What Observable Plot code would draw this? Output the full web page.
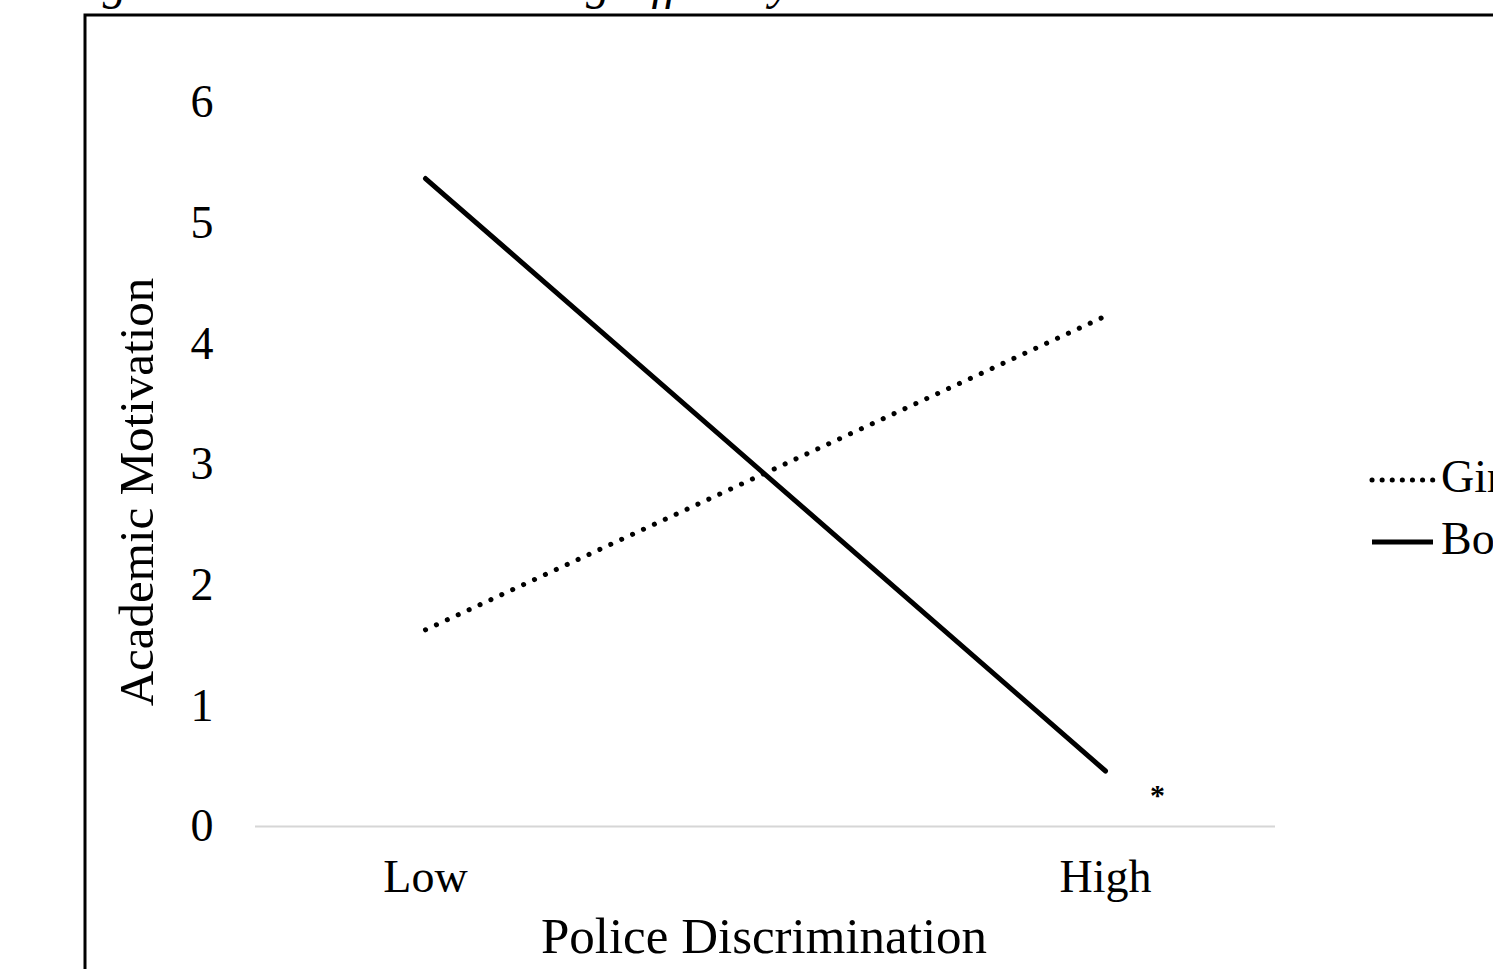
<!DOCTYPE html>
<html>
<head>
<meta charset="utf-8">
<script src="https://cdn.jsdelivr.net/npm/d3@7"></script>
<script src="https://cdn.jsdelivr.net/npm/@observablehq/plot@0.6"></script>
<style>
  html, body { margin: 0; padding: 0; background: #fff; overflow: hidden; }
  #chart svg { display: block; }
</style>
</head>
<body>
<div id="chart"></div>
<script>
const levels = ["Low", "High"];
const girls = [1.63, 4.23];
const boys = [5.37, 0.46];
const yTicks = [0, 1, 2, 3, 4, 5, 6];
const seriesNames = ["Girls", "Boys"];
const sigMark = [{level: "High", value: 0.26, label: "*"}];

const rows = [];
levels.forEach((l, i) => {
  rows.push({level: l, value: girls[i], group: "Girls"});
  rows.push({level: l, value: boys[i], group: "Boys"});
});

const W = 1493, H = 969;
const serif = "'Liberation Serif', 'DejaVu Serif', serif";

const plot = Plot.plot({
  width: W,
  height: H,
  marginLeft: 255,
  marginRight: 218,
  marginTop: 102,
  marginBottom: 143,
  style: {fontFamily: serif, fontSize: "46px", color: "#000", background: "#fff", overflow: "visible"},
  x: {type: "point", domain: levels, padding: 0.25, label: null},
  y: {domain: [0, 6], label: null},
  marks: [
    Plot.ruleY([0], {stroke: "#d6d6d6", strokeWidth: 2}),
    Plot.axisY({ticks: yTicks, tickFormat: "d", tickSize: 0, tickPadding: 42, fontSize: 46, label: null}),
    Plot.axisX({tickSize: 0, tickPadding: 33, fontSize: 46, label: null}),
    Plot.line(rows.filter(d => d.group === "Girls"), {
      x: "level", y: "value", stroke: "#000", strokeWidth: 5,
      strokeDasharray: "0.1 11.9", strokeLinecap: "round"
    }),
    Plot.line(rows.filter(d => d.group === "Boys"), {
      x: "level", y: "value", stroke: "#000", strokeWidth: 5,
      strokeLinecap: "round"
    }),
    Plot.text(sigMark, {x: "level", y: "value", text: "label", dx: 52, fontSize: 30, fontWeight: "bold", fill: "#000"})
  ]
});

document.getElementById("chart").appendChild(plot);
const svg = d3.select(plot);

// Frame
svg.append("rect")
  .attr("x", 85).attr("y", 15)
  .attr("width", W).attr("height", H)
  .attr("fill", "none").attr("stroke", "#000").attr("stroke-width", 3);

// Title (mostly cropped off the top)
svg.append("text")
  .attr("x", 60).attr("y", -1)
  .attr("text-anchor", "start")
  .attr("font-family", serif).attr("font-style", "italic")
  .attr("font-size", 48)
  .attr("fill", "#000")
  .text("Figure 2. Police Moderating Effect by Gender");

// Partial rotated glyph at left edge
svg.append("text")
  .attr("transform", "translate(-14,570) rotate(-90)")
  .attr("font-family", serif).attr("font-size", 48)
  .attr("text-anchor", "middle")
  .attr("fill", "#000")
  .text("g:");

// Axis titles
svg.append("text")
  .attr("transform", "translate(153,492) rotate(-90)")
  .attr("text-anchor", "middle")
  .attr("font-family", serif).attr("font-size", 49)
  .attr("fill", "#000")
  .text("Academic Motivation");

svg.append("text")
  .attr("x", 764).attr("y", 953)
  .attr("text-anchor", "middle")
  .attr("font-family", serif).attr("font-size", 51)
  .attr("fill", "#000")
  .text("Police Discrimination");

// Legend
const legendY = [480, 542];
const legendDash = ["0.1 10", null];
seriesNames.forEach((name, i) => {
  const ln = svg.append("line")
    .attr("x1", 1372).attr("x2", 1433)
    .attr("y1", legendY[i]).attr("y2", legendY[i])
    .attr("stroke", "#000").attr("stroke-width", 5)
    .attr("stroke-linecap", i === 0 ? "round" : "butt");
  if (legendDash[i]) ln.attr("stroke-dasharray", legendDash[i]);
  svg.append("text")
    .attr("x", 1441).attr("y", legendY[i] + 12)
    .attr("text-anchor", "start")
    .attr("font-family", serif).attr("font-size", 46)
    .attr("fill", "#000")
    .text(name);
});
</script>
</body>
</html>
